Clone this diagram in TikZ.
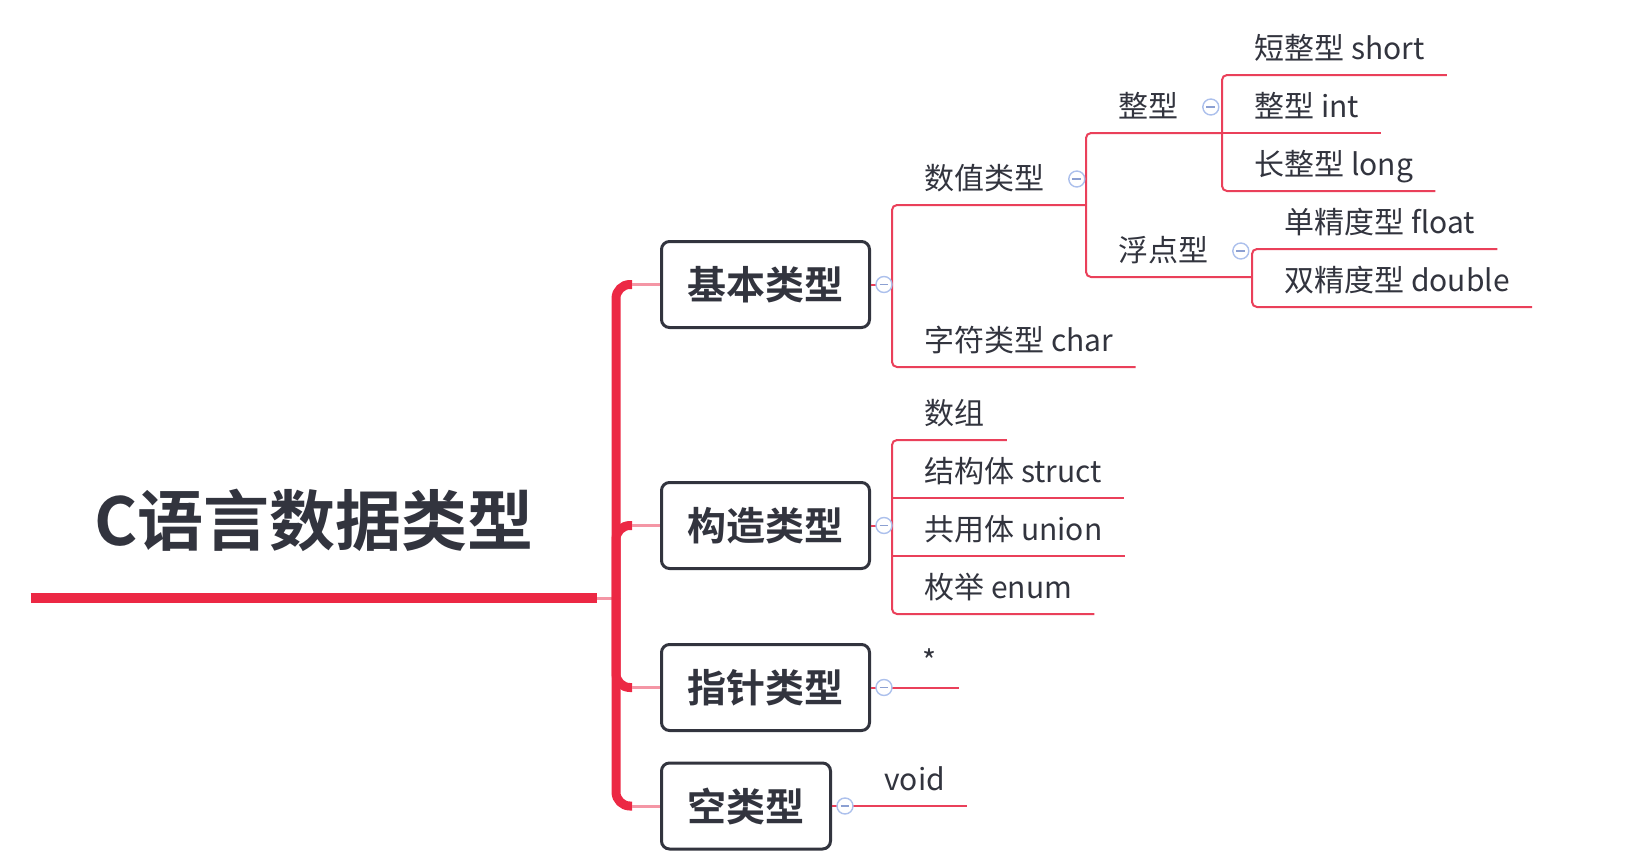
\documentclass[tikz,border=0pt]{standalone}
\usepackage{fontspec}
\setmainfont{Noto Sans CJK SC}[BoldFont={Noto Sans CJK SC Bold}]
\usetikzlibrary{positioning}
\definecolor{ink}{RGB}{50,52,62}
\definecolor{stemc}{RGB}{236,40,68}
\definecolor{twigc}{RGB}{234,64,90}
\definecolor{palec}{RGB}{244,150,165}
\definecolor{foldc}{RGB}{172,192,236}
\definecolor{foldm}{RGB}{140,160,210}

\begin{document}
\begin{tikzpicture}[x=0.5pt,y=-0.5pt,line cap=butt]
\tikzstyle{title}=[anchor=south,minimum width=283pt,inner ysep=0pt,text depth=26pt,text=ink,font=\bfseries\fontsize{33}{35}\selectfont]
\tikzstyle{box}=[anchor=west,draw=ink,line width=1.5pt,rounded corners=4pt,minimum height=43pt,inner xsep=13pt,text=ink,font=\bfseries\fontsize{19.5}{21}\selectfont]
\tikzstyle{leaf}=[anchor=south west,inner xsep=11pt,inner ysep=0pt,text depth=7.75pt,text=ink,font=\fontsize{15}{17}\selectfont]
\tikzstyle{fold}=[circle,draw=foldc,fill=white,line width=0.7pt,minimum size=8pt,inner sep=0pt,
  path picture={\draw[foldm,line width=0.6pt] ([xshift=-2.2pt]path picture bounding box.center) -- ([xshift=2.2pt]path picture bounding box.center);}]
\tikzstyle{stem}=[draw=stemc,line width=4.5pt,rounded corners=7pt]
\tikzstyle{mainline}=[draw=stemc,line width=5pt]
\tikzstyle{pale}=[draw=palec,line width=1.5pt]
\tikzstyle{twig}=[draw=twigc,line width=1pt,rounded corners=2.5pt]
\useasboundingbox (0,0) rectangle (1629,862);

% root and first level
\node[title] (root) at (314,598) {C语言数据类型};
\coordinate (J) at (616,598);
\node[box] (basic) at (660,284.5) {基本类型};
\node[box] (comp)  at (660,525.5) {构造类型};
\node[box] (ptr)   at (660,687.5) {指针类型};
\node[box] (vbox)  at (660,806)   {空类型};

% leaves
\node[leaf] (num)    at (902,205)  {数值类型};
\node[leaf] (chr)    at (902,367)  {字符类型 char};
\node[leaf] (int)    at (1096,133) {整型};
\node[leaf] (flt)    at (1096,277) {浮点型};
\node[leaf] (short)  at (1232,75)  {短整型 short};
\node[leaf] (intl)   at (1232,133) {整型 int};
\node[leaf] (long)   at (1232,191) {长整型 long};
\node[leaf] (single) at (1262,249) {单精度型 float};
\node[leaf] (double) at (1262,307) {双精度型 double};
\node[leaf] (arr)    at (902,440)  {数组};
\node[leaf] (st)     at (902,498)  {结构体 struct};
\node[leaf] (un)     at (902,556)  {共用体 union};
\node[leaf] (en)     at (902,614)  {枚举 enum};
\node[leaf] (star)   at (900,688)  {*};
\node[leaf] (vd)     at (862,806)  {void};

% trunk
\draw[mainline] (root.south west) -- (root.south east);
\draw[pale] (root.south east) -- (J);
\foreach \b in {basic,comp,ptr,vbox}{
  \draw[stem] (J) |- ([xshift=-14pt]\b.west);
  \draw[pale] ([xshift=-14pt]\b.west) -- (\b.west);
}

% 基本类型
\draw[twig] (basic.east) -- ([xshift=-5pt]basic.east -| num.west);
\draw[twig] ([xshift=-5pt]num.south -| int.west) -- ([xshift=-5pt]num.south west)
  -- ([xshift=-5pt]chr.south west) -- (chr.south east);
\draw[twig] ([xshift=-5pt]int.south -| short.west) -- ([xshift=-5pt]int.south west)
  -- ([xshift=-5pt]flt.south west) -- ([xshift=-5pt]flt.south -| single.west);
\draw[twig] (short.south east) -- ([xshift=-5pt]short.south west)
  -- ([xshift=-5pt]long.south west) -- (long.south east);
\draw[twig] ([xshift=-5pt]intl.south west) -- (intl.south east);
\draw[twig] (single.south east) -- ([xshift=-5pt]single.south west)
  -- ([xshift=-5pt]double.south west) -- (double.south east);

% 构造类型
\draw[twig] (comp.east) -- ([xshift=-5pt]comp.east -| arr.west);
\draw[twig] (arr.south east) -- ([xshift=-5pt]arr.south west)
  -- ([xshift=-5pt]en.south west) -- (en.south east);
\draw[twig] ([xshift=-5pt]st.south west) -- (st.south east);
\draw[twig] ([xshift=-5pt]un.south west) -- (un.south east);

% 指针类型, 空类型
\draw[twig] (ptr.east) -- (ptr.east -| star.east);
\draw[twig] (vbox.east) -- (vbox.east -| vd.east);

% fold marks
\node[fold] (fb) at ([xshift=6.5pt]basic.east) {};
\node[fold] (fc) at ([xshift=6.5pt]comp.east) {};
\node[fold] (fp) at ([xshift=6.5pt]ptr.east) {};
\node[fold] (fv) at ([xshift=6.5pt]vbox.east) {};
\node[fold] (fn) at ([xshift=5pt,yshift=13pt]num.south east) {};
\node[fold] (fi) at ([xshift=5pt,yshift=13pt]int.south east) {};
\node[fold] (ff) at ([xshift=5pt,yshift=13pt]flt.south east) {};
\end{tikzpicture}
\end{document}
